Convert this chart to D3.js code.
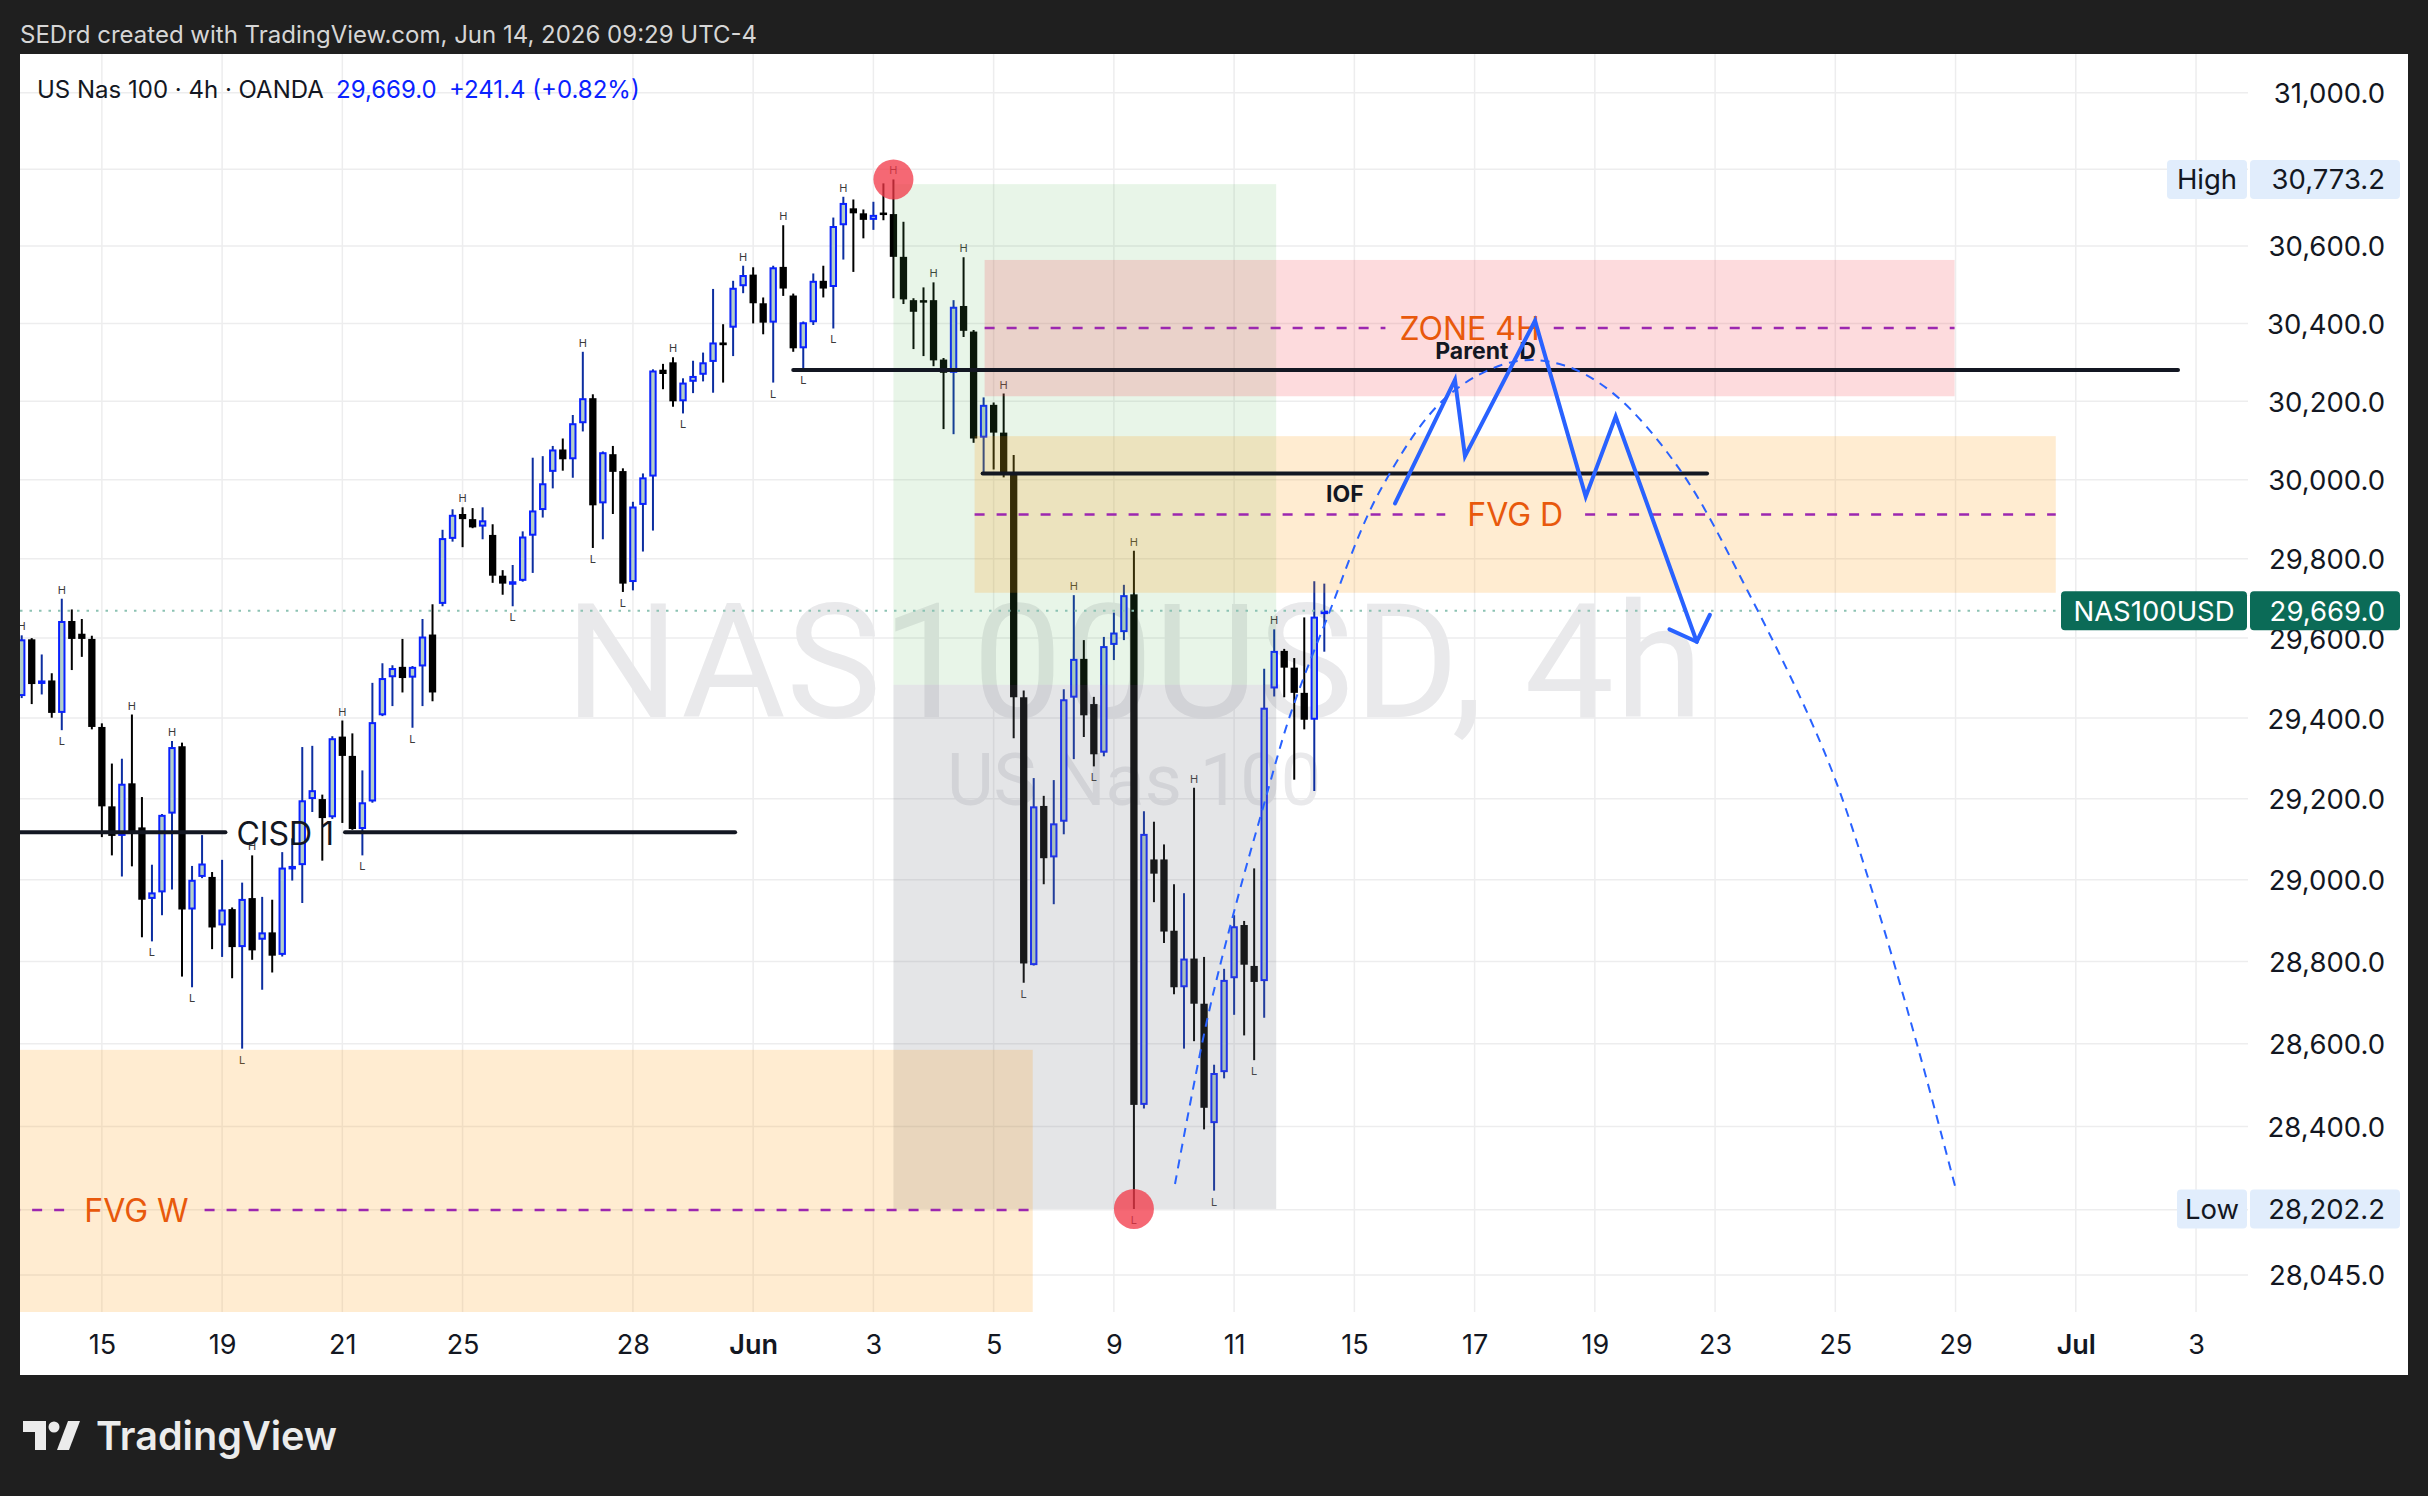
<!DOCTYPE html>
<html>
<head>
<meta charset="utf-8">
<script src="https://cdn.jsdelivr.net/npm/d3@7"></script>
<style>
  html, body { margin: 0; padding: 0; background: #1f1f1f; }
  svg { display: block; }
</style>
</head>
<body>
<svg id="chart" width="2428" height="1496"></svg>
<script>
// US Nas 100, 4h candles (bar 0 = first visible bar)
const opens = [29455,29597,29488,29494,29413,29643,29611,29598,29378,29181,
  29108,29238,29129,28953,28969,29163,29330,28927,29007,29007,
  28888,28928,28835,28955,28853,28871,28816,29030,29036,29199,
  29199,29154,29354,29306,29125,29193,29407,29502,29528,29501,
  29529,29609,29686,29850,29913,29900,29881,29860,29757,29737,
  29744,29858,29923,30020,30077,30052,30144,30208,29940,30065,
  30022,29741,29936,30008,30281,30300,30200,30250,30268,30301,
  30351,30389,30496,30526,30452,30402,30546,30472,30336,30403,
  30510,30494,30654,30698,30685,30668,30687,30683,30572,30460,
  30460,30460,30307,30273,30445,30379,30107,30191,30120,30016,
  29452,28791,29182,29055,29143,29451,29548,29435,29314,29583,
  29615,29710,28452,29050,29050,28875,28737,28807,28697,28408,
  28531,28759,28889,28789,28752,29474,29568,29526,29463,29396,
  29661]
const highs = [29607,29600,29559,29512,29699,29672,29648,29606,29387,29287,
  29299,29409,29204,29037,29162,29343,29339,29034,29110,29019,
  29049,28932,28993,29060,28958,28951,29068,29102,29328,29331,
  29210,29355,29394,29362,29270,29488,29537,29532,29598,29530,
  29648,29685,29873,29925,29930,29928,29930,29887,29771,29784,
  29869,30056,30060,30086,30105,30165,30327,30218,30072,30086,
  30029,29944,30016,30282,30296,30313,30259,30304,30325,30489,
  30398,30510,30549,30545,30467,30549,30654,30477,30405,30529,
  30549,30674,30728,30721,30695,30715,30763,30773.2,30663,30465,
  30493,30506,30311,30460,30571,30383,30210,30197,30220,30063,
  29469,29251,29207,29246,29472,29708,29595,29453,29603,29664,
  29734,29820,29169,29143,29087,28989,28967,29227,28811,28549,
  28782,28913,28899,29028,29523,29622,29573,29550,29652,29743,
  29737]
const lows = [29450,29435,29459,29401,29370,29520,29553,29372,29105,29060,
  29008,29033,28859,28849,28913,28976,28763,28737,29004,28830,
  28811,28759,28588,28804,28731,28773,28812,28998,28943,29167,
  29047,29150,29140,29123,29060,29190,29405,29430,29464,29376,
  29430,29442,29680,29843,29829,29877,29849,29739,29709,29680,
  29742,29764,29904,29978,30023,30005,30123,29827,29849,29913,
  29716,29720,29818,29871,30231,30186,30169,30221,30251,30222,
  30248,30316,30478,30400,30372,30248,30471,30327,30283,30396,
  30467,30387,30565,30533,30620,30642,30667,30465,30450,30334,
  30316,30290,30129,30116,30365,30094,30016,30026,30006,29350,
  28748,28790,28989,28940,29112,29298,29353,29280,29305,29545,
  29595,28202.2,28443,28945,28845,28720,28588,28606,28393,28246,
  28516,28670,28620,28560,28663,29454,29452,29247,29372,29219,
  29566]
const closes = [29597,29485,29494,29413,29643,29598,29598,29378,29181,29108,
  29237,29119,28951,28969,29160,29328,28927,29000,29040,28883,
  28927,28835,28953,28827,28871,28814,29030,29034,29196,29221,
  29152,29350,29306,29125,29191,29390,29500,29525,29500,29528,
  29604,29464,29852,29911,29900,29879,29897,29757,29737,29743,
  29856,29922,29991,30077,30052,30144,30208,29935,30070,30020,
  29737,29932,30006,30279,30270,30200,30248,30265,30300,30351,
  30344,30492,30525,30452,30402,30545,30490,30336,30403,30510,
  30490,30652,30712,30685,30668,30681,30685,30572,30462,30430,
  30458,30305,30273,30443,30381,30105,30191,30120,30016,29452,
  28795,29181,29053,29139,29447,29548,29407,29310,29580,29614,
  29708,28452,29113,29015,28873,28737,28807,28697,28445,28529,
  28755,28886,28792,28750,29426,29568,29526,29463,29396,29654,
  29669]

// swing markers
const swingHighBars = [0,4,11,15,23,32,44,56,65,72,76,82,87,91,94,98,105,111,117,125]
const swingLowBars = [4,13,17,22,34,39,49,57,60,66,75,78,81,100,107,111,119,123]

// axes
const dateLabels = ["15","19","21","25","28","Jun","3","5","9","11","15","17","19","23","25","29","Jul","3"]
const dateBars = [8,20,32,44,61,73,85,97,109,121,133,145,157,169,181,193,205,217]
const priceTicks = [31000,30800,30600,30400,30200,30000,29800,29600,29400,29200,29000,28800,28600,28400,28200,28045]

const lastPrice = 29669.0
const highPrice = 30773.2
const lowPrice = 28202.2

// drawings: [bar start, bar end] and [price top, price bottom]
const targetBars = [87, 125.2], targetPrices = [30761, 29483]
const stopBars = [87, 125.2], stopPrices = [29483, 28202.2]
const zoneBars = [96.1, 192.9], zonePrices = [30564, 30213]
const fvgDBars = [95.1, 203], fvgDPrices = [30111, 29714]
const fvgWBars = [-78, 100.9], fvgWPrices = [28585, 27820]
const parentBars = [77, 215.2], parentPrice = 30280
const iofBars = [95.9, 168.2], iofPrice = 30016
const cisdBars = [-18.6, 71.2], cisdPrice = 29117
const circleBars = [87, 111], circlePrices = [30773.2, 28202.2]

const zigzagBars = [137.06, 143.04, 144.04, 151.03, 156.09, 159.08, 167.17]
const zigzagPrices = [29940, 30255, 30060, 30407, 29957, 30161, 29591]
const curveBars = [115.1, 118.3, 121.3, 123.9, 126.6, 130.2, 135.6, 142.2, 148.8, 153.8, 158.8, 165.5, 172.2, 180.2, 184.9, 189.4, 193.1]
const curvePrices = [28262, 28657, 28950, 29179, 29408, 29645, 29974, 30211, 30301, 30293, 30221, 30025, 29721, 29298, 28955, 28577, 28243]

const W = 2428, H = 1496
const PLOT = { LEFT: 20, RIGHT: 2248, TOP: 54, BOTTOM: 1312 }
const FONT = "Inter, Roboto, sans-serif"
const UP_FILL = "#b3cfc8", UP_LINE = "#0a22ff", UP_WICK = "#0d2ea0"
const ORANGE = "#e8590c", PURPLE = "#9c27b0", BLUE = "#2962ff", INK = "#131722"

const BAR0 = 21.7, BAR_STEP = 10.02
const x = d3.scaleLinear().domain([0, 100]).range([BAR0, BAR0 + 100 * BAR_STEP])
const y = d3.scaleLog().domain([28045, 31000]).range([1274.9, 92.8])

const svg = d3.select("#chart")
svg.append("rect").attr("width", W).attr("height", H).attr("fill", "#1f1f1f")

svg.append("text")
  .attr("x", 20).attr("y", 43)
  .attr("font-family", FONT).attr("font-size", 24).attr("fill", "#d6d6d6")
  .text("SEDrd created with TradingView.com, Jun 14, 2026 09:29 UTC-4")

// white panel
svg.append("rect")
  .attr("x", 20).attr("y", 54).attr("width", 2388).attr("height", 1321)
  .attr("fill", "#ffffff")

svg.append("clipPath").attr("id", "plot-clip")
  .append("rect")
  .attr("x", PLOT.LEFT).attr("y", PLOT.TOP)
  .attr("width", PLOT.RIGHT - PLOT.LEFT).attr("height", PLOT.BOTTOM - PLOT.TOP)

const plot = svg.append("g").attr("clip-path", "url(#plot-clip)")

// grid
plot.append("g").selectAll("line")
  .data(priceTicks)
  .join("line")
    .attr("x1", PLOT.LEFT).attr("x2", PLOT.RIGHT)
    .attr("y1", d => y(d)).attr("y2", d => y(d))
    .attr("stroke", "#ededee").attr("stroke-width", 1.5)

plot.append("g").selectAll("line")
  .data(dateBars)
  .join("line")
    .attr("x1", d => x(d)).attr("x2", d => x(d))
    .attr("y1", PLOT.TOP).attr("y2", PLOT.BOTTOM)
    .attr("stroke", "#ededee").attr("stroke-width", 1.5)

// watermark
const midX = (PLOT.LEFT + PLOT.RIGHT) / 2
plot.append("text")
  .attr("x", midX).attr("y", 717)
  .attr("text-anchor", "middle")
  .attr("font-family", "Roboto, sans-serif").attr("font-size", 160)
  .attr("textLength", 1138).attr("lengthAdjust", "spacing")
  .attr("fill", "#e9e9eb")
  .text("NAS100USD, 4h")
plot.append("text")
  .attr("x", midX).attr("y", 805)
  .attr("text-anchor", "middle")
  .attr("font-family", "Roboto, sans-serif").attr("font-size", 72)
  .attr("fill", "#e9e9eb")
  .text("US Nas 100")

// candles
const bars = opens.map((o, i) => ({ i, o, h: highs[i], l: lows[i], c: closes[i], up: closes[i] >= o }))
const candles = plot.append("g")

candles.selectAll("line")
  .data(bars)
  .join("line")
    .attr("x1", d => x(d.i)).attr("x2", d => x(d.i))
    .attr("y1", d => y(d.h)).attr("y2", d => y(d.l))
    .attr("stroke", d => d.up ? UP_WICK : "#000")
    .attr("stroke-width", 2)

candles.selectAll("rect")
  .data(bars)
  .join("rect")
    .attr("x", d => x(d.i) - (d.up ? 2.7 : 3.65))
    .attr("width", d => d.up ? 5.4 : 7.3)
    .attr("y", d => y(Math.max(d.o, d.c)) + (d.up ? 1 : 0))
    .attr("height", d => Math.max(Math.abs(y(d.o) - y(d.c)) - (d.up ? 2 : 0), d.up ? 1.5 : 2.5))
    .attr("fill", d => d.up ? UP_FILL : "#000")
    .attr("stroke", d => d.up ? UP_LINE : "none")
    .attr("stroke-width", 2)

// swing labels
plot.append("g").selectAll("text")
  .data(swingHighBars)
  .join("text")
    .attr("x", d => x(d)).attr("y", d => y(highs[d]) - 5)
    .attr("text-anchor", "middle")
    .attr("font-family", FONT).attr("font-size", 11).attr("fill", "#3a3a3a")
    .text("H")
plot.append("g").selectAll("text")
  .data(swingLowBars)
  .join("text")
    .attr("x", d => x(d)).attr("y", d => y(lows[d]) + 15)
    .attr("text-anchor", "middle")
    .attr("font-family", FONT).attr("font-size", 11).attr("fill", "#3a3a3a")
    .text("L")

// boxes
function box(barsRange, prices, fill) {
  plot.append("rect")
    .attr("x", x(barsRange[0])).attr("width", x(barsRange[1]) - x(barsRange[0]))
    .attr("y", y(prices[0])).attr("height", y(prices[1]) - y(prices[0]))
    .attr("fill", fill)
}
box(targetBars, targetPrices, "rgba(76,175,80,0.13)")
box(stopBars, stopPrices, "rgba(120,123,134,0.2)")
box(fvgWBars, fvgWPrices, "rgba(255,152,0,0.18)")
box(zoneBars, zonePrices, "rgba(242,54,69,0.18)")
box(fvgDBars, fvgDPrices, "rgba(255,152,0,0.18)")

// line with a text label in its middle, line broken round the label
function labelledLine(barsRange, price, label, style) {
  const x0 = x(barsRange[0]), x1 = x(barsRange[1]), py = y(price)
  const cx = (x0 + x1) / 2
  const t = plot.append("text")
    .attr("x", cx).attr("y", py + style.dy)
    .attr("text-anchor", "middle")
    .attr("font-family", FONT).attr("font-size", style.size)
    .attr("font-weight", style.weight || 400)
    .attr("fill", style.color)
    .style("white-space", "pre")
    .text(label)
  const w = style.gap ? t.node().getComputedTextLength() / 2 + style.gap : 0
  const segs = style.gap ? [[x0, cx - w], [cx + w, x1]] : [[x0, x1]]
  plot.insert("g", () => t.node()).selectAll("line")
    .data(segs)
    .join("line")
      .attr("x1", d => d[0]).attr("x2", d => d[1])
      .attr("y1", py).attr("y2", py)
      .attr("stroke", style.line).attr("stroke-width", style.width)
      .attr("stroke-dasharray", style.dash || null)
      .attr("stroke-linecap", style.dash ? "butt" : "round")
}

labelledLine(zoneBars, Math.sqrt(zonePrices[0] * zonePrices[1]), "ZONE 4H",
  { dy: 12, size: 32, color: ORANGE, line: PURPLE, width: 2.5, dash: "10,12", gap: 14 })
labelledLine(fvgDBars, Math.sqrt(fvgDPrices[0] * fvgDPrices[1]), "FVG D",
  { dy: 12, size: 32, color: ORANGE, line: PURPLE, width: 2.5, dash: "10,12", gap: 22 })
labelledLine(fvgWBars, Math.sqrt(fvgWPrices[0] * fvgWPrices[1]), "FVG W",
  { dy: 12, size: 32, color: ORANGE, line: PURPLE, width: 2.5, dash: "10,12", gap: 16 })
labelledLine(parentBars, parentPrice, "Parent  D",
  { dy: -11, size: 23, weight: 700, color: INK, line: INK, width: 4 })
labelledLine(iofBars, iofPrice, "IOF",
  { dy: 29, size: 23, weight: 700, color: INK, line: INK, width: 4 })
labelledLine(cisdBars, cisdPrice, "CISD 1",
  { dy: 13, size: 32, color: INK, line: INK, width: 4, gap: 11 })

// last price line
plot.append("line")
  .attr("x1", PLOT.LEFT).attr("x2", 2061)
  .attr("y1", y(lastPrice)).attr("y2", y(lastPrice))
  .attr("stroke", "#8cc2b3").attr("stroke-width", 2)
  .attr("stroke-dasharray", "2.5,7")

// projected path
const line = d3.line().x(d => x(d[0])).y(d => y(d[1]))
plot.append("path")
  .attr("d", line.curve(d3.curveCatmullRom.alpha(0.5))(curveBars.map((b, i) => [b, curvePrices[i]])))
  .attr("fill", "none").attr("stroke", BLUE).attr("stroke-width", 2)
  .attr("stroke-dasharray", "9,7")

const zz = zigzagBars.map((b, i) => [b, zigzagPrices[i]])
plot.append("path")
  .attr("d", d3.line().x(d => x(d[0])).y(d => y(d[1]))(zz))
  .attr("fill", "none").attr("stroke", BLUE).attr("stroke-width", 4)
  .attr("stroke-linejoin", "miter").attr("stroke-linecap", "round")

const tip = [x(zz[zz.length - 1][0]), y(zz[zz.length - 1][1])]
const prev = [x(zz[zz.length - 2][0]), y(zz[zz.length - 2][1])]
const back = Math.atan2(prev[1] - tip[1], prev[0] - tip[0])
const wing = a => [tip[0] + 30 * Math.cos(back + a), tip[1] + 30 * Math.sin(back + a)]
plot.append("path")
  .attr("d", d3.line()([wing(-0.8), tip, wing(0.8)]))
  .attr("fill", "none").attr("stroke", BLUE).attr("stroke-width", 4)
  .attr("stroke-linecap", "round").attr("stroke-linejoin", "miter")

// high / low circles
plot.append("g").selectAll("circle")
  .data(circleBars)
  .join("circle")
    .attr("cx", d => x(d)).attr("cy", (d, i) => y(circlePrices[i]))
    .attr("r", 20)
    .attr("fill", "rgba(242,54,69,0.75)")

// price axis
const yAxisCall = d3.axisLeft(y)
  .tickValues(priceTicks)
  .tickFormat(d3.format(",.1f"))
  .tickSize(0).tickPadding(0)
const yAxis = svg.append("g")
  .attr("transform", "translate(2385, 0)")
  .call(yAxisCall)
yAxis.select(".domain").remove()
yAxis.selectAll("text")
  .attr("font-family", FONT).attr("font-size", 27.5).attr("fill", INK)
  .attr("dy", "0.36em")

// time axis
const xAxisCall = d3.axisBottom(x)
  .tickValues(dateBars)
  .tickFormat((d, i) => dateLabels[i])
  .tickSize(0).tickPadding(0)
const xAxis = svg.append("g")
  .attr("transform", "translate(0, 1344)")
  .call(xAxisCall)
xAxis.select(".domain").remove()
xAxis.selectAll("text")
  .attr("font-family", FONT).attr("font-size", 27).attr("fill", INK)
  .attr("font-weight", (d, i) => isNaN(+dateLabels[i]) ? 600 : 400)
  .attr("y", 0).attr("dy", "0.36em")

// price labels on the axis
function priceTag(price, name, nameLeft, bg, fg) {
  const cy = y(price)
  const g = svg.append("g")
  g.append("rect")
    .attr("x", nameLeft).attr("y", cy - 19.5).attr("width", 2247 - nameLeft).attr("height", 39)
    .attr("rx", 4).attr("fill", bg)
  g.append("rect")
    .attr("x", 2250).attr("y", cy - 19.5).attr("width", 150).attr("height", 39)
    .attr("rx", 4).attr("fill", bg)
  g.append("text")
    .attr("x", (nameLeft + 2247) / 2).attr("y", cy).attr("dy", "0.36em")
    .attr("text-anchor", "middle")
    .attr("font-family", FONT).attr("font-size", 27.5).attr("fill", fg)
    .text(name)
  g.append("text")
    .attr("x", 2385).attr("y", cy).attr("dy", "0.36em")
    .attr("text-anchor", "end")
    .attr("font-family", FONT).attr("font-size", 27.5).attr("fill", fg)
    .text(d3.format(",.1f")(price))
}
priceTag(highPrice, "High", 2167, "#e1edfc", INK)
priceTag(lowPrice, "Low", 2177, "#e1edfc", INK)
priceTag(lastPrice, "NAS100USD", 2061, "#0b6b57", "#ffffff")

// legend
svg.append("text")
  .attr("x", 37).attr("y", 98)
  .attr("font-family", FONT).attr("font-size", 24).attr("fill", INK)
  .text("US Nas 100 · 4h · OANDA")
svg.append("text")
  .attr("x", 336).attr("y", 98)
  .attr("font-family", FONT).attr("font-size", 24).attr("fill", UP_LINE)
  .text("29,669.0")
svg.append("text")
  .attr("x", 449).attr("y", 98)
  .attr("font-family", FONT).attr("font-size", 24).attr("fill", UP_LINE)
  .text("+241.4 (+0.82%)")

// footer logo
const logo = svg.append("g").attr("fill", "#ececec")
logo.append("path").attr("d", "M23,1421 H46 V1450 H35 V1432 H23 Z")
logo.append("circle").attr("cx", 54).attr("cy", 1427).attr("r", 5.5)
logo.append("path").attr("d", "M57,1450 L68,1421 H80 L69,1450 Z")
logo.append("text")
  .attr("x", 96).attr("y", 1450)
  .attr("font-family", FONT).attr("font-size", 40).attr("font-weight", 600)
  .attr("textLength", 241).attr("lengthAdjust", "spacingAndGlyphs")
  .text("TradingView")
</script>
</body>
</html>
